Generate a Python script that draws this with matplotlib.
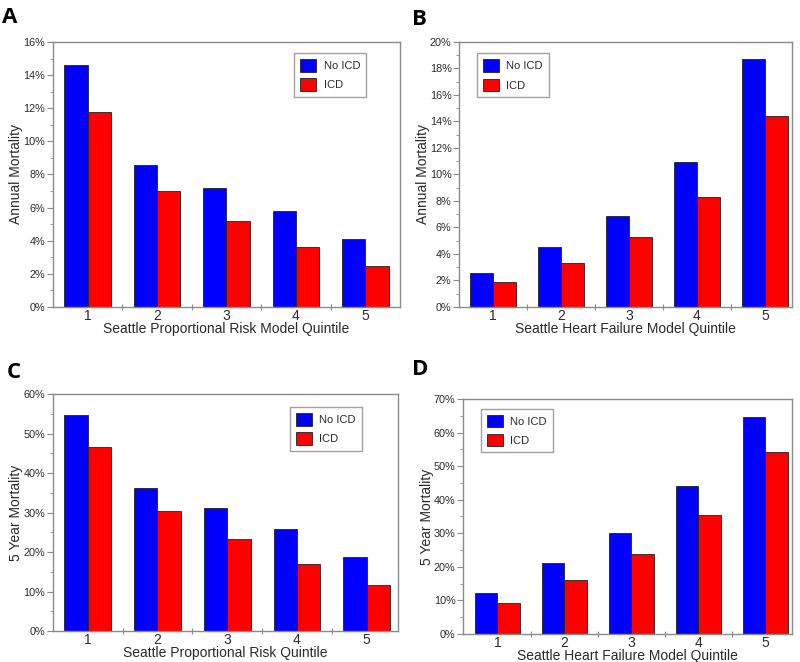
import matplotlib
matplotlib.use("Agg")
import matplotlib.pyplot as plt
import numpy as np
from matplotlib.ticker import MultipleLocator, FuncFormatter, FixedLocator

plt.rcParams['font.family'] = ['Liberation Sans', 'DejaVu Sans']

quintiles = [1, 2, 3, 4, 5]
series_names = ["No ICD", "ICD"]

a_no_icd = [14.6, 8.6, 7.2, 5.8, 4.1]
a_icd = [11.8, 7.0, 5.2, 3.65, 2.45]

b_no_icd = [2.55, 4.55, 6.9, 10.95, 18.75]
b_icd = [1.9, 3.35, 5.25, 8.3, 14.45]

c_no_icd = [54.6, 36.2, 31.1, 25.9, 18.7]
c_icd = [46.5, 30.5, 23.4, 17.0, 11.7]

d_no_icd = [12.2, 21.1, 30.2, 44.1, 64.7]
d_icd = [9.3, 16.0, 23.8, 35.4, 54.2]

panels = [
    dict(label="A", no=a_no_icd, icd=a_icd, ymax=16, ystep=2,
         ylabel="Annual Mortality", xlabel="Seattle Proportional Risk Model Quintile",
         pos=[0.066, 0.5363, 0.434, 0.4003], xlim=(0.5, 5.5),
         leg=(0.695, 0.958), lab=(0.003, 0.99)),
    dict(label="B", no=b_no_icd, icd=b_icd, ymax=20, ystep=2,
         ylabel="Annual Mortality", xlabel="Seattle Heart Failure Model Quintile",
         pos=[0.574, 0.5363, 0.416, 0.4003], xlim=(0.5, 5.4),
         leg=(0.053, 0.957), lab=(0.515, 0.986)),
    dict(label="C", no=c_no_icd, icd=c_icd, ymax=60, ystep=10,
         ylabel="5 Year Mortality", xlabel="Seattle Proportional Risk Quintile",
         pos=[0.066, 0.0468, 0.4315, 0.358], xlim=(0.5, 5.45),
         leg=(0.687, 0.945), lab=(0.008, 0.453)),
    dict(label="D", no=d_no_icd, icd=d_icd, ymax=70, ystep=10,
         ylabel="5 Year Mortality", xlabel="Seattle Heart Failure Model Quintile",
         pos=[0.579, 0.0423, 0.4105, 0.355], xlim=(0.49, 5.39),
         leg=(0.054, 0.959), lab=(0.515, 0.457)),
]

fig = plt.figure(figsize=(8.0, 6.62), dpi=100)
spine_col = "#8a8a8a"
text_col = "#2a2a2a"
w = 0.335
x = np.array(quintiles, dtype=float)

for p in panels:
    ax = fig.add_axes(p["pos"])
    ax.bar(x - w / 2, p["no"], width=w, color="#0000ff", edgecolor="#222222",
           linewidth=0.6, label=series_names[0])
    ax.bar(x + w / 2, p["icd"], width=w, color="#ff0000", edgecolor="#222222",
           linewidth=0.6, label=series_names[1])
    ax.set_xlim(*p["xlim"])
    ax.set_ylim(0, p["ymax"])
    ax.yaxis.set_major_locator(MultipleLocator(p["ystep"]))
    ax.yaxis.set_minor_locator(MultipleLocator(p["ystep"] / 2))
    ax.yaxis.set_major_formatter(FuncFormatter(lambda v, pos: f"{v:.0f}%"))
    ax.set_xticks(quintiles)
    ax.set_xticklabels([str(q) for q in quintiles])
    ax.xaxis.set_minor_locator(FixedLocator([1.5, 2.5, 3.5, 4.5]))
    for s in ax.spines.values():
        s.set_color(spine_col)
        s.set_linewidth(1.0)
    ax.tick_params(axis="y", which="major", length=4, width=0.8, color=spine_col,
                   labelsize=7.8, labelcolor=text_col, pad=1.5)
    ax.tick_params(axis="y", which="minor", length=2, width=0.6, color=spine_col)
    ax.tick_params(axis="x", which="major", length=0, labelsize=10,
                   labelcolor=text_col, pad=1.5)
    ax.tick_params(axis="x", which="minor", length=4, width=0.8, color=spine_col,
                   direction="inout")
    ax.set_ylabel(p["ylabel"], fontsize=10, color=text_col, labelpad=0)
    ax.set_xlabel(p["xlabel"], fontsize=10, color=text_col, labelpad=-0.5)
    leg = ax.legend(loc="upper left", bbox_to_anchor=p["leg"], borderaxespad=0,
                    fontsize=8, frameon=True, fancybox=False, handlelength=1.4,
                    handleheight=1.35, handletextpad=0.7, labelspacing=0.6,
                    borderpad=0.55)
    leg.get_frame().set_edgecolor(spine_col)
    leg.get_frame().set_linewidth(1.0)
    for t in leg.get_texts():
        t.set_color(text_col)
    fig.text(p["lab"][0], p["lab"][1], p["label"], fontsize=16, fontweight="bold",
             family=["Open Sans", "DejaVu Sans"], ha="left", va="top", color="black")

fig.savefig("out.png", dpi=100)
